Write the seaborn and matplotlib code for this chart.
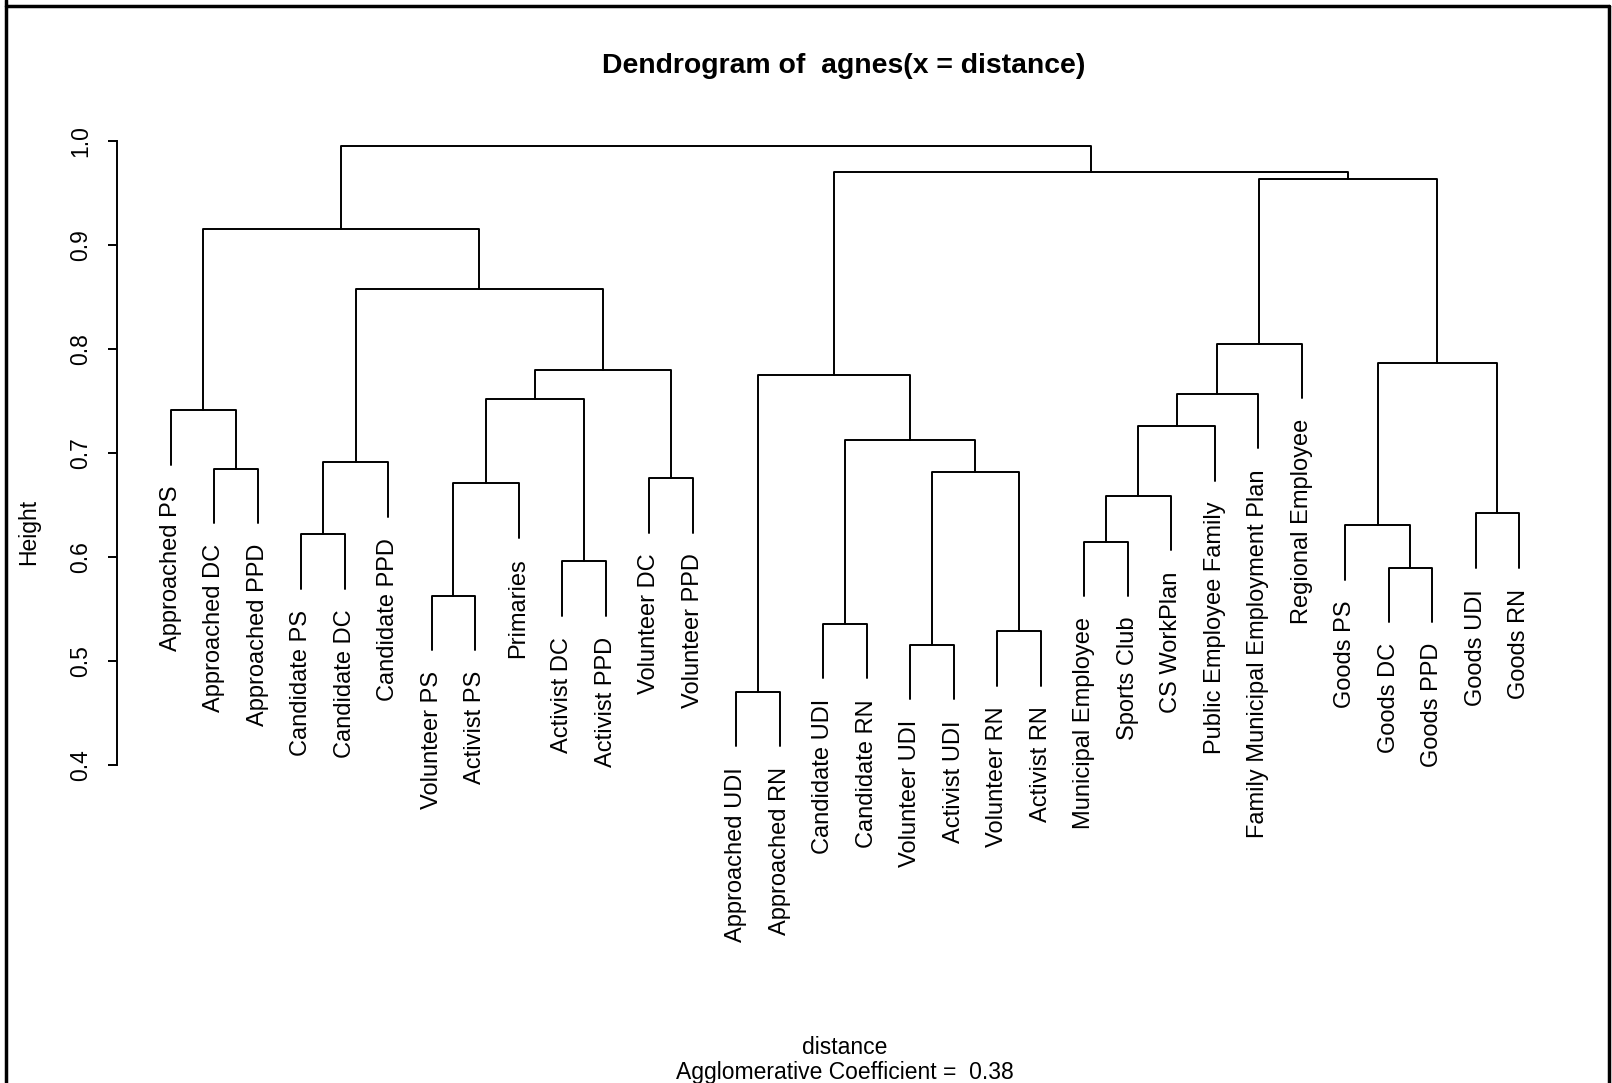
import numpy as np
import pandas as pd
import matplotlib.pyplot as plt
from matplotlib.lines import Line2D
import seaborn as sns

sns.set_style("white")
plt.rcParams['font.family'] = ['Liberation Sans', 'DejaVu Sans']
plt.rcParams['text.color'] = 'black'
plt.rcParams['ytick.color'] = 'black'
plt.rcParams['axes.labelcolor'] = 'black'

# leaves in plotting order
leaf_labels = ['Approached PS', 'Approached DC', 'Approached PPD',
               'Candidate PS', 'Candidate DC', 'Candidate PPD',
               'Volunteer PS', 'Activist PS', 'Primaries',
               'Activist DC', 'Activist PPD', 'Volunteer DC', 'Volunteer PPD',
               'Approached UDI', 'Approached RN', 'Candidate UDI', 'Candidate RN',
               'Volunteer UDI', 'Activist UDI', 'Volunteer RN', 'Activist RN',
               'Municipal Employee', 'Sports Club', 'CS WorkPlan',
               'Public Employee Family', 'Family Municipal Employment Plan',
               'Regional Employee', 'Goods PS', 'Goods DC', 'Goods PPD',
               'Goods UDI', 'Goods RN']

# merge steps (like R's merge matrix): negative = leaf number, positive = earlier step
merge_left = [-14, -18, -20, -16, -7, -29, -10, -22, -4, -28, -31, 8, 5, -12, 2, -2,
              9, 4, 12, -1, 13, 19, 1, 21, 10, 22, 17, 20, 26, 23, 28]
merge_right = [-15, -19, -21, -17, -8, -30, -11, -23, -5, 6, -32, -24, -9, -13, 3, -3,
               -6, 15, -25, 16, 7, -26, 18, 14, 11, -27, 24, 27, 25, 29, 30]
merge_height = [0.471, 0.516, 0.529, 0.536, 0.563, 0.590, 0.596, 0.615, 0.622, 0.631,
                0.642, 0.659, 0.671, 0.676, 0.682, 0.685, 0.691, 0.713, 0.726, 0.741,
                0.752, 0.757, 0.775, 0.780, 0.787, 0.805, 0.858, 0.915, 0.963, 0.970,
                0.995]
agglo_coef = 0.38

hang = 0.1 * (max(merge_height) - min(merge_height))

# work out segment coordinates
center = {}
rows = []
tips = {}
for i, (a, b, h) in enumerate(zip(merge_left, merge_right, merge_height), start=1):
    ends = []
    for c in (a, b):
        if c < 0:
            x, y0 = -c, h - hang
            tips[-c] = y0
        else:
            x, y0 = center[c], merge_height[c - 1]
        ends.append((x, y0))
    center[i] = (ends[0][0] + ends[1][0]) / 2
    pts = [ends[0], (ends[0][0], h), (ends[1][0], h), ends[1]]
    for k, (x, y) in enumerate(pts):
        rows.append({'seg': i, 'order': k, 'x': x, 'y': y})
segs = pd.DataFrame(rows)

fig = plt.figure(figsize=(16.12, 10.83), dpi=100)
ax = fig.add_axes([0.0724, 0.1274, 0.9034, 0.7599])

sns.lineplot(data=segs, x='x', y='y', units='seg', estimator=None, sort=False,
             color='black', lw=1.4, ax=ax, legend=False)

for j, lab in enumerate(leaf_labels, start=1):
    ax.text(j, tips[j] - 0.02, lab, rotation=90, ha='center', va='top',
            fontsize=17, color='black')

ax.set_xlim(-0.24, 33.24)
ax.set_ylim(0.2275, 1.018)
ax.set_xticks([])
ax.set_yticks([0.4, 0.5, 0.6, 0.7, 0.8, 0.9, 1.0])
ax.set_yticklabels(['0.4', '0.5', '0.6', '0.7', '0.8', '0.9', '1.0'],
                   rotation=90, va='center', fontsize=16.5, color='black')
ax.tick_params(axis='y', length=6.5, width=1.4, pad=11, left=True, color='black')
for s in ['top', 'right', 'bottom']:
    ax.spines[s].set_visible(False)
ax.spines['left'].set_bounds(0.4, 1.0)
ax.spines['left'].set_linewidth(1.4)
ax.spines['left'].set_color('black')
ax.set_xlabel('')
ax.set_ylabel('')

fig.text(844 / 1612, 1 - 66 / 1083, 'Dendrogram of  agnes(x = distance)',
         ha='center', va='center', fontsize=20.4, fontweight='bold')
fig.text(29 / 1612, 1 - 532 / 1083, 'Height', rotation=90,
         ha='center', va='center', fontsize=16.5)
fig.text(845 / 1612, 1 - 1048 / 1083, 'distance', ha='center', va='center', fontsize=16.5)
fig.text(845 / 1612, 1 - 1073 / 1083, 'Agglomerative Coefficient =  %.2f' % agglo_coef,
         ha='center', va='center', fontsize=16.5)

# outer box of the page figure
for xs, ys in [([6, 6], [0, 1083]), ([6, 1609], [6, 6]), ([1609, 1609], [6, 1083])]:
    fig.add_artist(Line2D([x / 1612 for x in xs], [1 - y / 1083 for y in ys],
                          color='black', lw=2.5, transform=fig.transFigure))

fig.savefig('out.png', dpi=100)
